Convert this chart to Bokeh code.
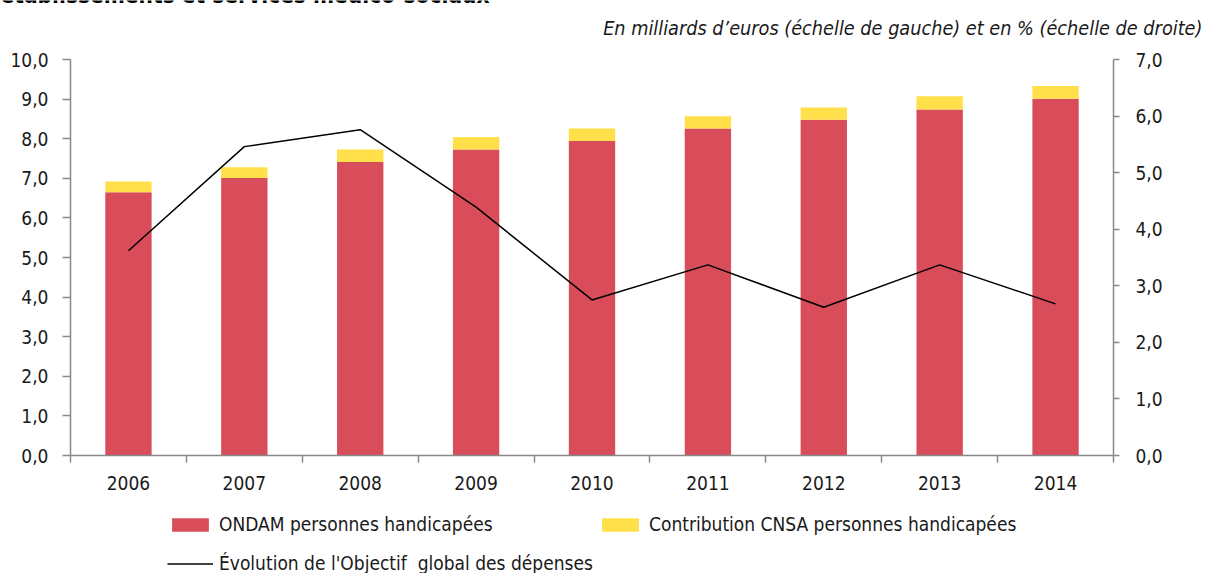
from bokeh.plotting import figure
from bokeh.models import (Range1d, LinearAxis, FixedTicker, Legend, LegendItem,
                          Label, ColumnDataSource)
from bokeh.embed import file_html
from bokeh.resources import INLINE

years = ["2006", "2007", "2008", "2009", "2010", "2011", "2012", "2013", "2014"]
ondam = [6.65, 7.01, 7.41, 7.73, 7.94, 8.26, 8.48, 8.74, 9.01]
cnsa = [0.27, 0.27, 0.32, 0.31, 0.32, 0.31, 0.31, 0.33, 0.32]
evolution = [3.62, 5.46, 5.76, 4.39, 2.75, 3.37, 2.62, 3.37, 2.68]
left_ticks = [0, 1, 2, 3, 4, 5, 6, 7, 8, 9, 10]
right_ticks = [0, 1, 2, 3, 4, 5, 6, 7]

FONT = "DejaVu Sans Condensed"
RED = "#D94D5A"
YELLOW = "#FFE04A"
AXIS = "#898989"
TXT = "#1a1a1a"

W, H = 1205, 573
FL, FR, FT, FB = 70, 1113, 59, 455   # axis frame in canvas pixels
NX = len(years)
sx = (FR - FL) / NX
sy = (FB - FT) / 10
sr = (FB - FT) / 7

xs = [i + 0.5 for i in range(NX)]
src = ColumnDataSource(dict(x=xs, ondam=ondam, cnsa=cnsa, evo=evolution))

p = figure(width=W, height=H, output_backend="svg", toolbar_location=None,
           x_range=Range1d(-FL / sx, NX + (W - FR) / sx),
           y_range=Range1d(-(H - FB) / sy, 10 + FT / sy),
           min_border=0)
p.extra_y_ranges = {"pct": Range1d(-(H - FB) / sr, 7 + FT / sr)}
p.outline_line_color = None
p.xgrid.visible = False
p.ygrid.visible = False

bars = p.vbar_stack(["ondam", "cnsa"], x="x", width=0.4, source=src,
                    color=[RED, YELLOW], line_color=None)
ln = p.line("x", "evo", source=src, y_range_name="pct", color="black", line_width=1.5)

# x axis
xa = p.xaxis[0]
xa.fixed_location = 0
xa.bounds = (0, NX)
xa.ticker = FixedTicker(ticks=xs, minor_ticks=list(range(NX + 1)))
xa.major_label_overrides = {x: y for x, y in zip(xs, years)}
xa.major_tick_out = 0
xa.major_tick_in = 0
xa.minor_tick_out = 7
xa.minor_tick_in = 0
xa.minor_tick_line_color = AXIS
xa.minor_tick_line_width = 1.5
xa.axis_line_color = AXIS
xa.axis_line_width = 1.5
xa.major_label_standoff = 13
xa.major_label_text_font = FONT
xa.major_label_text_font_size = "19px"
xa.major_label_text_color = TXT

# left axis
ya = p.yaxis[0]
ya.fixed_location = 0
ya.bounds = (0, 10)
ya.ticker = FixedTicker(ticks=left_ticks)
ya.major_label_overrides = {t: f"{t},0" for t in left_ticks}
ya.major_tick_out = 8
ya.major_tick_in = 0
ya.major_tick_line_color = AXIS
ya.major_tick_line_width = 1.5
ya.minor_tick_line_color = None
ya.axis_line_color = AXIS
ya.axis_line_width = 1.5
ya.major_label_standoff = 14
ya.major_label_text_font = FONT
ya.major_label_text_font_size = "19px"
ya.major_label_text_color = TXT

# right axis
ra = LinearAxis(y_range_name="pct", ticker=FixedTicker(ticks=right_ticks),
                fixed_location=NX, bounds=(0, 7))
ra.major_label_overrides = {t: f"{t},0" for t in right_ticks}
ra.major_tick_out = 6
ra.major_tick_in = 0
ra.major_tick_line_color = AXIS
ra.major_tick_line_width = 1.5
ra.minor_tick_line_color = None
ra.axis_line_color = AXIS
ra.axis_line_width = 1.5
ra.major_label_standoff = 16
ra.major_label_text_font = FONT
ra.major_label_text_font_size = "19px"
ra.major_label_text_color = TXT
p.add_layout(ra, "right")

legend = Legend(items=[
    LegendItem(label="ONDAM personnes handicapées", renderers=[bars[0]]),
    LegendItem(label="Contribution CNSA personnes handicapées", renderers=[bars[1]]),
    LegendItem(label="Évolution de l'Objectif  global des dépenses", renderers=[ln]),
], orientation="horizontal", ncols=2, location=(167, -9.5),
    glyph_width=46, glyph_height=17, label_standoff=6, label_width=378,
    label_height=39, spacing=0, padding=0, margin=0,
    border_line_color=None, background_fill_alpha=0,
    label_text_font=FONT, label_text_font_size="19px", label_text_color=TXT)
p.add_layout(legend, "center")

title = Label(x=-0.604, y=11.63, text="établissements et services médico-sociaux",
              text_font=FONT, text_font_style="bold", text_font_size="22.5px",
              text_color="black", text_baseline="middle", text_align="left")
p.add_layout(title)

sub = Label(x=9.767, y=10.783,
            text="En milliards d’euros (échelle de gauche) et en % (échelle de droite)",
            text_font=FONT, text_font_style="italic", text_font_size="19.7px",
            text_color=TXT, text_baseline="middle", text_align="right")
p.add_layout(sub)

open("out.html", "w").write(file_html(p, INLINE))
